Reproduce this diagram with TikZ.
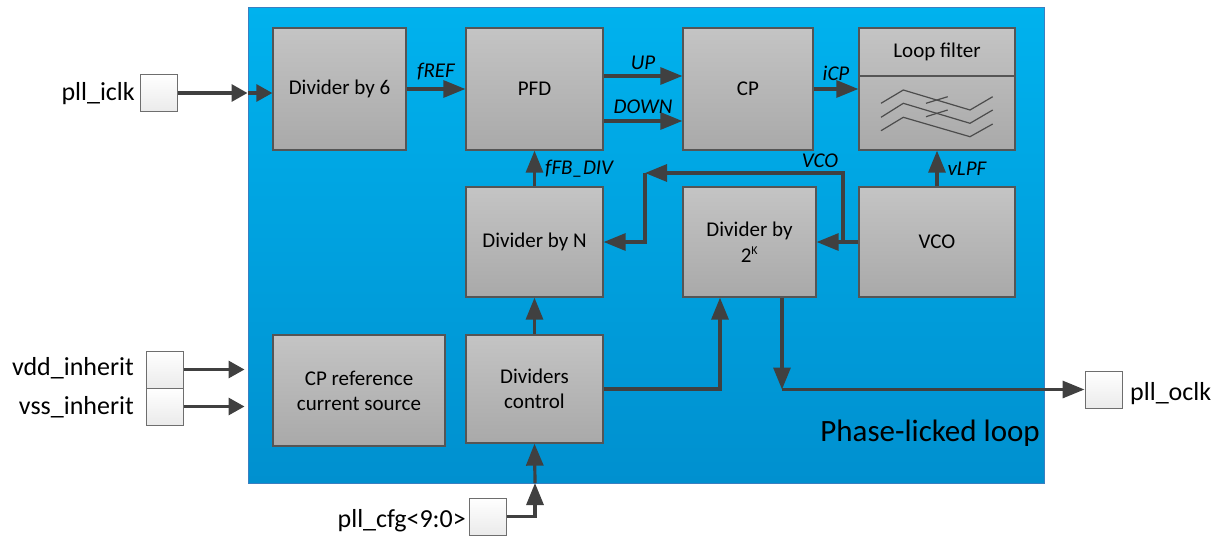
\documentclass[tikz,border=0pt]{standalone}
\usepackage{fontspec}
\setmainfont{Carlito}
\usetikzlibrary{arrows.meta,calc}
\definecolor{pllTop}{HTML}{00B2EE}
\definecolor{pllBot}{HTML}{0090CF}
\definecolor{pllEdge}{HTML}{3A7FC0}
\definecolor{blkTop}{HTML}{C4C4C4}
\definecolor{blkBot}{HTML}{A9A9A9}
\definecolor{blkEdge}{HTML}{555555}
\definecolor{pinEdge}{HTML}{6E6E6E}
\definecolor{wire}{HTML}{404040}
\tikzset{
  blockbox/.style={draw=blkEdge, line width=1.3pt, top color=blkTop, bottom color=blkBot,
    align=center, font=\fontsize{21}{25}\selectfont, inner sep=0pt},
  pinbox/.style={draw=pinEdge, line width=1pt, top color=white, bottom color=black!8,
    minimum width=37pt, minimum height=37pt, inner sep=0pt},
  pinlabel/.style={font=\fontsize{26}{30}\selectfont, inner sep=0pt},
  siglabel/.style={font=\fontsize{21}{25}\selectfont\itshape, inner sep=0pt},
  arr/.style={draw=wire, line width=3.2pt, -{Triangle[length=22pt,width=17pt]}},
  arrs/.style={draw=wire, line width=3.2pt, -{Triangle[length=16pt,width=17pt]}},
  wireline/.style={draw=wire, line width=3.2pt},
  filterline/.style={draw=black!70, line width=1.2pt},
}
\begin{document}
\begin{tikzpicture}[x=1pt,y=-1pt]
\useasboundingbox (0,0) rectangle (1228,538);
% outer PLL block
\node[draw=pllEdge, line width=1pt, top color=pllTop, bottom color=pllBot,
  minimum width=796pt, minimum height=476pt, inner sep=0pt] (pll) at (646,245) {};
\node[font=\fontsize{31}{35}\selectfont, anchor=east, inner sep=0pt] (plltitle) at (1040,433) {Phase-licked loop};
% blocks
\node[blockbox, minimum width=133pt, minimum height=122pt] (div6) at (339.5,89) {Divider by 6};
\node[blockbox, minimum width=137pt, minimum height=122pt] (pfd) at (534.5,89) {PFD};
\node[blockbox, minimum width=130pt, minimum height=122pt] (cp) at (748,89) {CP};
\node[blockbox, minimum width=156pt, minimum height=122pt] (lf) at (937,89) {};
\draw[blkEdge, line width=1.3pt] (lf.west |- 0,76) -- (lf.east |- 0,76);
\node[font=\fontsize{21}{25}\selectfont, inner sep=0pt] (lftext) at (937,52) {Loop filter};
\node[blockbox, minimum width=137pt, minimum height=110pt] (divn) at (534.5,242) {Divider by N};
\node[blockbox, minimum width=133pt, minimum height=110pt] (div2k) at (749.5,242) {Divider by\\[1pt] 2\textsuperscript{\fontsize{12}{12}\selectfont K}};
\node[blockbox, minimum width=156pt, minimum height=110pt] (vco) at (937,242) {VCO};
\node[blockbox, minimum width=172pt, minimum height=111pt] (cpref) at (359,390.5) {CP reference\\current source};
\node[blockbox, minimum width=137pt, minimum height=108pt] (dctl) at (534.5,389) {Dividers\\control};
% loop filter symbol
\draw[filterline] (881,103.3) -- (903.3,90) -- (970,110) -- (992.7,96.7);
\draw[filterline] (881,117.3) -- (903.3,103.3) -- (970,123.3) -- (992.7,110);
\draw[filterline] (881,130.7) -- (903.3,117.3) -- (970,136.7) -- (992.7,124);
\draw[filterline] (926,103.3) -- (947.7,96.7);
\draw[filterline] (926,116.7) -- (947.7,110);
% pins
\node[pinbox] (piclk) at (158.5,93) {};
\node[pinlabel, anchor=base east] (piclkl) at (135,100) {pll\_iclk};
\node[pinbox] (pvdd) at (164.5,369.5) {};
\node[pinlabel, anchor=base east] (pvddl) at (134,375) {vdd\_inherit};
\node[pinbox] (pvss) at (164.5,406.5) {};
\node[pinlabel, anchor=base east] (pvssl) at (134,414) {vss\_inherit};
\node[pinbox] (pcfg) at (487.5,516.5) {};
\node[pinlabel, anchor=base east] (pcfgl) at (466,527) {pll\_cfg<9:0>};
\node[pinbox] (poclk) at (1103.5,389.5) {};
\node[pinlabel, anchor=base west] (poclkl) at (1130,400) {pll\_oclk};
% coordinates
\coordinate (inb) at (pll.west |- piclk.east);
\coordinate (vddb) at ([xshift=-3pt]pll.west |- pvdd.east);
\coordinate (vssb) at ([xshift=-3pt]pll.west |- pvss.east);
\coordinate (br) at (843,242);
\coordinate (c1) at (645,173);
\coordinate (c2) at ([xshift=32.5pt]div2k.south |- poclk.west);
\coordinate (cfgb) at (535,483);
% connectors
\draw[arrs] (piclk.east) -- (inb);
\draw[arrs] (inb) -- (div6.west |- inb);
\draw[arr] (div6.east) -- (pfd.west) node[siglabel, midway, above=7pt] (lfref) {fREF};
\draw[arr] ([yshift=13pt]pfd.east) -- ([yshift=13pt]cp.west) node[siglabel, midway, above=5pt] (lup) {UP};
\draw[arr] ([yshift=-32pt]pfd.east) -- ([yshift=-32pt]cp.west) node[siglabel, midway, above=6pt] (ldown) {DOWN};
\draw[arr] (cp.east) -- (lf.west) node[siglabel, midway, above=7pt] (licp) {iCP};
\draw[arr] (vco.north) -- (lf.south) node[siglabel, midway, right=9pt] (lvlpf) {vLPF};
\draw[arr] (vco.west) -- (div2k.east);
\draw[arr] (br) |- (c1);
\node[siglabel] (lvco) at (820,161) {VCO};
\draw[arr] (c1) |- (divn.east);
\draw[arr] (divn.north) -- (pfd.south) node[siglabel, midway, right=9pt] (lfb) {fFB\_DIV};
\draw[arr] (dctl.north) -- (divn.south);
\draw[arr] (dctl.east) -| ([xshift=-29.5pt]div2k.south);
\draw[arr] ([xshift=32.5pt]div2k.south) -- (c2);
\draw[arr] (c2) -- (poclk.west);
\draw[arrs] (pvdd.east) -- (vddb);
\draw[arrs] (pvss.east) -- (vssb);
\draw[arr] (pcfg.east) -| (cfgb);
\draw[arr] (cfgb) -- (dctl.south);
\end{tikzpicture}
\end{document}
